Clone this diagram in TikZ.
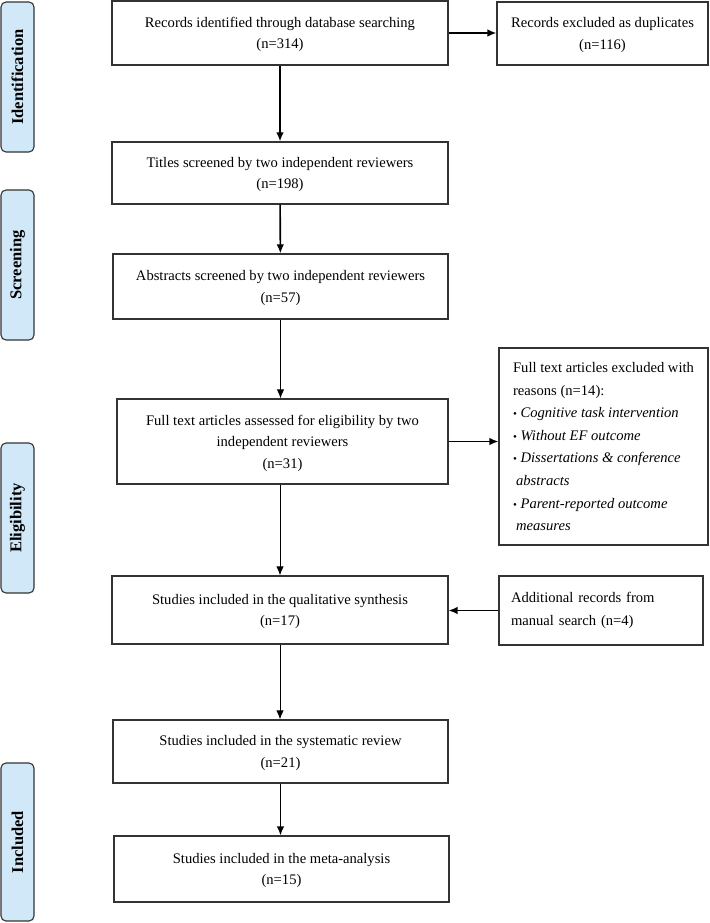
\documentclass[tikz,border=0pt]{standalone}
\usepackage{fontspec}
\setmainfont{Liberation Serif}
\usetikzlibrary{arrows.meta}
\usetikzlibrary{positioning}

\definecolor{stageblue}{HTML}{D0E8F8}
\definecolor{edge}{HTML}{333333}

\newcommand{\bul}{{\fontsize{11}{11}\selectfont\textbullet}\ }

\begin{document}
\begin{tikzpicture}[x=1pt,y=-1pt]
\tikzstyle{box} = [draw=edge, line width=1.2pt, align=center, inner sep=0pt, text depth=-3pt, font=\fontsize{14.6}{21.5}\selectfont]
\tikzstyle{listbox} = [box, align=left, font=\fontsize{14.6}{22.6}\selectfont]
\tikzstyle{stage} = [draw=edge, line width=1.1pt, fill=stageblue, rounded corners=5pt, rotate=90, minimum height=33pt, inner sep=0pt, font=\fontsize{16.5}{18}\selectfont\bfseries]
\tikzstyle{arr} = [-{Latex[length=9pt,width=7.5pt]}, line width=1pt, black]

\useasboundingbox (0,0) rectangle (709,923);

% stage labels on the left
\foreach \name/\yc/\len in {Identification/77/150, Screening/265/150, Eligibility/518/150, Included/842/158} {
\node[stage, minimum width=\len] (st\name) at (17.5,\yc) {\name};
}

% main column
\node[box, minimum width=336, minimum height=64] (rec) at (280,33) {Records identified through database searching\\(n=314)};
\node[box, minimum width=336, minimum height=62] (titles) at (280,173) {Titles screened by two independent reviewers\\(n=198)};
\node[box, minimum width=335, minimum height=65] (abstr) at (280.5,286.5) {Abstracts screened by two independent reviewers\\(n=57)};
\node[box, minimum width=331, minimum height=85] (full) at (282.5,441.5) {Full text articles assessed for eligibility by two\\independent reviewers\\(n=31)};
\node[box, minimum width=336, minimum height=68] (qual) at (280,610) {Studies included in the qualitative synthesis\\(n=17)};
\node[box, minimum width=335, minimum height=63] (sysrev) at (280.5,751.5) {Studies included in the systematic review\\(n=21)};
\node[box, minimum width=335, minimum height=66] (meta) at (281.5,869) {Studies included in the meta-analysis\\(n=15)};

% side boxes
\node[box, minimum width=211, minimum height=63] (dup) at (602.5,33.5) {Records excluded as duplicates\\(n=116)};
\node[listbox, minimum width=209, minimum height=197] (excl) at (603.5,446.5) {Full text articles excluded with\\reasons (n=14):\\
\bul\textit{Cognitive task intervention}\\
\bul\textit{Without EF outcome}\\
\bul\textit{Dissertations \& conference}\\
\hspace{3pt}\textit{abstracts}\\
\bul\textit{Parent-reported outcome}\\
\hspace{3pt}\textit{measures}};
\node[listbox, text depth={}, inner xsep=12pt, text width=180, minimum height=69] (addl) at (601,610.5) {Additional records from\\manual search (n=4)};

% connectors
\draw[arr, line width=1.6pt] (rec.east) -- (rec.east -| dup.west);
\draw[arr, line width=1.6pt] (rec) -- (titles);
\draw[arr, line width=1.6pt] (titles) -- (abstr);
\draw[arr] (abstr.south) -- (abstr.south |- full.north);
\draw[arr, line width=1.3pt] (full.east) -- (full.east -| excl.west);
\draw[arr] (qual.north |- full.south) -- (qual.north);
\draw[arr, line width=1.3pt] (addl.west) -- (addl.west -| qual.east);
\draw[arr] (qual.south) -- (qual.south |- sysrev.north);
\draw[arr, line width=1.3pt] (sysrev.south) -- (sysrev.south |- meta.north);

\end{tikzpicture}
\end{document}
